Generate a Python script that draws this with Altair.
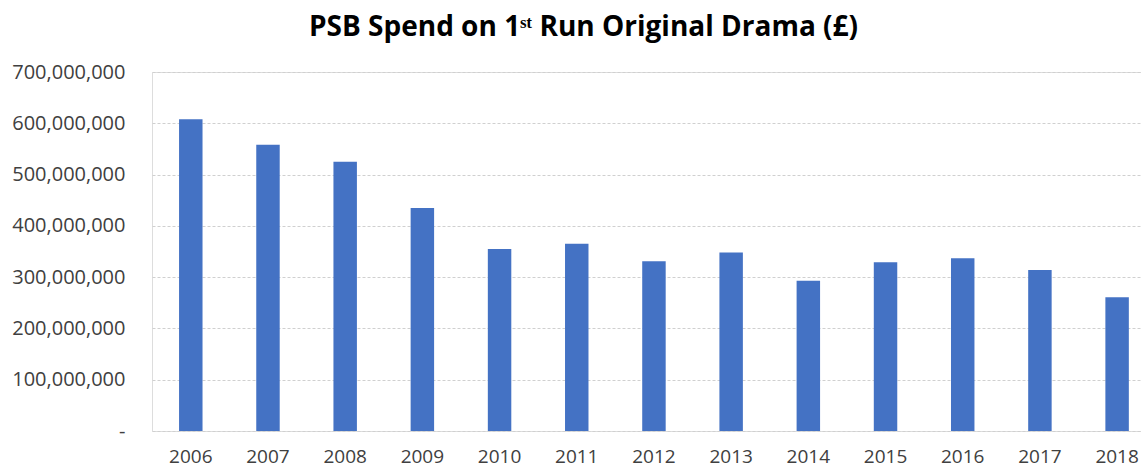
import altair as alt
import pandas as pd

years = ["2006", "2007", "2008", "2009", "2010", "2011", "2012",
         "2013", "2014", "2015", "2016", "2017", "2018"]
spend = [608e6, 558e6, 525e6, 435e6, 355e6, 365e6, 331e6,
         348e6, 293e6, 329e6, 337e6, 314e6, 261e6]
y_ticks = [0, 100e6, 200e6, 300e6, 400e6, 500e6, 600e6, 700e6]
title_text = "PSB Spend on 1ˢᵗ Run Original Drama (£)"

df = pd.DataFrame({"year": years, "spend": spend})

chart = alt.Chart(df).mark_bar(color="#4472C4").encode(
    x=alt.X("year:N",
            scale=alt.Scale(paddingInner=0.696, paddingOuter=0.254, align=0.69),
            axis=alt.Axis(title=None, labelAngle=0, ticks=False, domain=False,
                          labelFont="Open Sans", labelFontSize=19,
                          labelColor="#404040", labelPadding=16, grid=False)),
    y=alt.Y("spend:Q",
            scale=alt.Scale(domain=[0, 700e6], nice=False),
            axis=alt.Axis(title=None, values=y_ticks, ticks=False, domain=False,
                          labelFont="Open Sans", labelFontSize=20,
                          labelColor="#404040", labelPadding=27,
                          gridColor="#d0d0d0", gridDash=[3, 2], gridWidth=1,
                          labelExpr="datum.value == 0 ? '-\u00a0\u00a0' : format(datum.value, ',')")),
).properties(
    width=989, height=359,
    autosize=alt.AutoSizeParams(type="none"),
    padding={"left": 152, "top": 72, "right": 0, "bottom": 37},
    title=alt.Title(title_text, font="Open Sans", fontSize=28, fontWeight="bold",
                    color="#000000", anchor="middle", dx=-63, dy=37, offset=35,
                    baseline="alphabetic"),
).configure_view(stroke=None).configure(background="white")

chart.save("out.html", embed_options={"renderer": "svg", "actions": False})
